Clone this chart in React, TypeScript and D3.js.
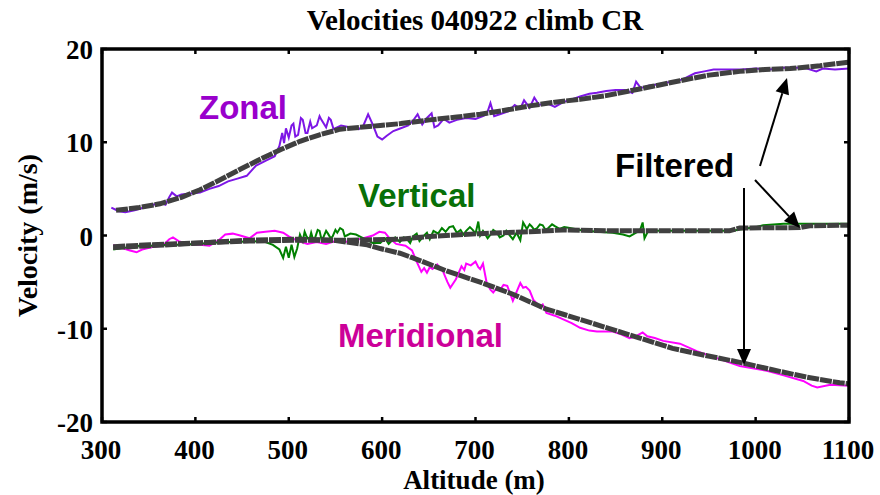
import React from "react";
import * as d3 from "d3";

// ---------- data ----------
const xTicks = [300, 400, 500, 600, 700, 800, 900, 1000, 1100];
const yTicks = [20, 10, 0, -10, -20];

// raw series: [altitude m, velocity m/s]
const zonalRaw: [number, number][] = [
  [310, 3.0], [318, 2.6], [325, 2.5], [335, 2.7], [345, 3.0], [355, 3.3], [362, 3.5], [368, 3.3],
  [372, 4.1], [375, 4.6], [380, 4.2], [385, 4.4], [395, 4.5], [405, 4.6], [415, 5.0], [425, 5.3],
  [435, 5.8], [445, 6.1], [455, 6.4], [465, 7.5], [475, 8.0], [485, 8.5], [490, 9.6], [493, 11.0],
  [495, 9.9], [497, 11.5], [500, 10.5], [503, 11.8], [505, 12.0], [507, 10.6], [510, 10.8], [513, 12.6],
  [515, 12.4], [518, 11.0], [520, 11.0], [523, 12.2], [525, 11.5], [530, 11.8], [533, 12.8], [535, 12.4],
  [540, 11.6], [543, 12.6], [545, 12.4], [548, 11.4], [550, 11.5], [556, 11.8], [565, 11.6], [575, 11.4],
  [580, 11.8], [585, 13.0], [590, 11.9], [595, 10.6], [600, 10.3], [605, 10.7], [612, 11.2], [620, 11.5],
  [628, 11.8], [633, 12.3], [638, 13.0], [643, 11.9], [648, 12.6], [653, 13.1], [656, 11.6], [660, 11.8],
  [666, 12.5], [672, 12.1], [680, 12.4], [690, 12.6], [700, 12.5], [708, 12.8], [712, 13.0], [716, 14.2],
  [720, 12.8], [726, 13.0], [735, 13.3], [742, 14.0], [748, 13.6], [752, 14.5], [758, 13.7], [763, 14.8],
  [768, 14.0], [776, 14.2], [785, 13.8], [794, 14.3], [803, 14.6], [812, 14.9], [822, 15.2], [830, 15.3],
  [840, 15.5], [850, 15.6], [860, 15.6], [868, 15.3], [872, 16.5], [877, 15.8], [886, 16.1], [895, 16.2],
  [905, 16.4], [915, 16.5], [925, 16.9], [935, 17.4], [945, 17.6], [955, 17.8], [970, 17.8], [985, 17.8],
  [1000, 17.9], [1015, 17.8], [1030, 18.0], [1045, 18.0], [1055, 17.9], [1065, 17.6], [1072, 17.9],
  [1085, 17.8], [1100, 17.9],
];

const verticalRaw: [number, number][] = [
  [312, -1.5], [325, -1.3], [340, -1.1], [355, -1.1], [370, -1.0], [385, -1.0], [400, -0.9], [415, -0.8],
  [430, -0.7], [445, -0.7], [460, -0.6], [475, -0.7], [483, -1.0], [490, -1.5], [494, -2.4], [497, -1.2],
  [500, -2.4], [503, -1.0], [506, -2.3], [509, -1.4], [512, 0.1], [515, -0.6], [517, 0.4], [519, -0.1],
  [522, -0.5], [524, 0.3], [526, -0.4], [528, -0.3], [531, 0.6], [533, 0.5], [535, -0.4], [537, -0.2],
  [540, 0.5], [542, 0.2], [545, -0.3], [547, -0.1], [550, 0.6], [552, 0.3], [555, 0.8], [558, 0.6],
  [560, -0.1], [562, 0.0], [566, 0.2], [572, 0.1], [578, -0.2], [584, -0.5], [590, -0.8], [598, -0.8],
  [603, -0.3], [607, -0.9], [610, -0.6], [614, -0.2], [619, -0.7], [623, -0.2], [626, -0.3], [630, -0.8],
  [633, -0.1], [637, 0.2], [640, -0.6], [645, 0.0], [648, 0.3], [651, -0.4], [655, 0.5], [660, 0.2],
  [664, 0.8], [668, 0.4], [672, 0.9], [676, 1.0], [680, 0.3], [684, 0.6], [687, 0.1], [690, 0.5],
  [694, 0.9], [697, 0.6], [700, 0.2], [703, 1.5], [705, 0.0], [708, 0.5], [710, 0.2], [713, -0.3],
  [716, 0.1], [719, 0.6], [723, 0.3], [726, -0.2], [730, 0.0], [733, 0.5], [736, 0.1], [740, -0.4],
  [744, 0.3], [748, -0.5], [751, 1.4], [755, 0.7], [758, 1.2], [760, 1.0], [763, 0.6], [766, 0.8],
  [769, 1.2], [772, 1.1], [775, 0.6], [778, 0.8], [782, 1.2], [785, 1.0], [790, 0.7], [795, 0.9],
  [801, 0.8], [812, 0.6], [830, 0.4], [847, 0.3], [858, 0.1], [865, -0.1], [872, 0.3], [876, 0.5],
  [879, 1.4], [881, -0.3], [885, 0.5], [900, 0.5], [919, 0.5], [950, 0.5], [975, 0.5], [1000, 0.9],
  [1008, 1.1], [1030, 1.25], [1060, 1.25], [1100, 1.25],
];

const meridionalRaw: [number, number][] = [
  [312, -1.0], [320, -1.3], [330, -1.6], [337, -1.8], [343, -1.5], [355, -1.2], [365, -1.1], [372, -0.4],
  [376, -0.2], [382, -0.6], [392, -0.9], [405, -1.0], [415, -1.1], [425, -0.5], [432, 0.1], [440, 0.2],
  [448, 0.0], [458, -0.3], [466, 0.3], [475, 0.4], [485, 0.5], [494, 0.3], [500, -0.1], [510, -0.6],
  [520, -0.9], [530, -0.7], [540, -0.9], [550, -0.6], [560, -0.7], [570, -0.5], [580, -0.3], [590, 0.0],
  [597, 0.4], [603, 0.3], [608, -0.3], [615, -0.9], [625, -1.1], [632, -1.6], [637, -2.8], [642, -3.9],
  [645, -3.5], [648, -4.0], [651, -3.4], [654, -3.6], [659, -3.1], [665, -3.8], [670, -5.0], [673, -5.6],
  [679, -4.7], [685, -3.3], [688, -3.7], [690, -3.0], [695, -3.2], [700, -2.8], [703, -3.4], [705, -3.6],
  [708, -3.0], [712, -5.1], [716, -5.8], [719, -6.1], [723, -5.6], [726, -5.9], [730, -5.3], [734, -5.4],
  [740, -7.0], [745, -5.8], [748, -5.1], [751, -5.6], [754, -5.5], [758, -5.9], [762, -6.9], [766, -7.3],
  [769, -7.7], [772, -7.4], [776, -8.3], [785, -8.6], [794, -9.0], [803, -9.4], [812, -9.9], [822, -10.2],
  [830, -10.3], [847, -10.3], [856, -10.6], [865, -11.0], [872, -10.8], [879, -10.4], [884, -10.8],
  [892, -11.0], [901, -11.3], [919, -11.6], [937, -12.4], [960, -13.2], [983, -14.0], [1012, -14.5],
  [1030, -15.0], [1051, -15.6], [1060, -16.1], [1066, -16.3], [1080, -16.0], [1100, -16.1],
];

// filtered series
const zonalFiltered: [number, number][] = [
  [315, 2.7], [340, 3.0], [362, 3.4], [385, 4.1], [405, 4.9], [425, 5.9], [448, 7.1], [470, 8.2],
  [491, 9.2], [512, 10.1], [533, 10.8], [555, 11.4], [576, 11.6], [598, 11.8], [620, 12.0], [651, 12.4],
  [680, 12.7], [705, 13.0], [730, 13.4], [758, 13.9], [785, 14.3], [812, 14.6], [840, 15.0], [865, 15.5],
  [890, 16.0], [919, 16.6], [950, 17.2], [983, 17.6], [1010, 17.8], [1037, 17.9], [1069, 18.2], [1100, 18.6],
];

const verticalFiltered: [number, number][] = [
  [312, -1.2], [351, -1.0], [405, -0.8], [458, -0.6], [512, -0.5], [566, -0.5], [619, -0.4], [651, -0.1],
  [705, 0.2], [758, 0.4], [794, 0.6], [847, 0.5], [919, 0.5], [972, 0.5], [983, 0.8], [1047, 0.85],
  [1058, 1.05], [1100, 1.1],
];

const meridionalFiltered: [number, number][] = [
  [312, -1.3], [351, -1.1], [405, -0.8], [458, -0.5], [512, -0.4], [547, -0.5], [584, -1.0], [598, -1.4],
  [619, -1.9], [633, -2.4], [669, -3.8], [705, -5.0], [740, -6.3], [776, -7.9], [812, -9.0], [847, -10.1],
  [876, -11.0], [911, -12.1], [948, -12.9], [983, -13.6], [1018, -14.4], [1055, -15.2], [1090, -15.8],
  [1100, -15.9],
];

// ---------- layout ----------
const W = 880;
const H = 495;
const M = { left: 102, right: 849, top: 49, bottom: 422 };

const x = d3.scaleLinear().domain([300, 1100]).range([M.left, M.right]);
const y = d3.scaleLinear().domain([-20, 20]).range([M.bottom, M.top]);
const line = d3
  .line<[number, number]>()
  .x((d) => x(d[0]))
  .y((d) => y(d[1]));

const serif = "'Liberation Serif', 'Times New Roman', serif";
const sans = "'Liberation Sans', Arial, sans-serif";

function Arrow({ x1, y1, x2, y2 }: { x1: number; y1: number; x2: number; y2: number }) {
  const ang = Math.atan2(y2 - y1, x2 - x1);
  const len = 16;
  const half = 7;
  const bx = x2 - len * Math.cos(ang);
  const by = y2 - len * Math.sin(ang);
  const px = -Math.sin(ang) * half;
  const py = Math.cos(ang) * half;
  return (
    <g>
      <line x1={x1} y1={y1} x2={bx} y2={by} stroke="#000" strokeWidth={2} />
      <polygon points={`${x2},${y2} ${bx + px},${by + py} ${bx - px},${by - py}`} fill="#000" />
    </g>
  );
}

export default function App() {
  const tickLen = 5;
  return (
    <div style={{ position: "absolute", left: 0, top: 0 }}>
      <svg width={W} height={H} style={{ display: "block", background: "#fff" }}>
        <defs>
          <clipPath id="plot">
            <rect x={M.left} y={M.top} width={M.right - M.left} height={M.bottom - M.top} />
          </clipPath>
        </defs>

        {/* title */}
        <text x={475} y={30} textAnchor="middle" fontFamily={serif} fontWeight="bold" fontSize={29}>
          Velocities 040922 climb CR
        </text>

        <g clipPath="url(#plot)">
          <path d={line(meridionalRaw) || ""} fill="none" stroke="#ff00ff" strokeWidth={2} />
          <path d={line(zonalRaw) || ""} fill="none" stroke="#7d16e6" strokeWidth={2} />
          <path d={line(verticalRaw) || ""} fill="none" stroke="#008000" strokeWidth={2} />
          {[zonalFiltered, verticalFiltered, meridionalFiltered].map((s, i) => (
            <path
              key={i}
              d={line(s) || ""}
              fill="none"
              stroke="#404040"
              strokeWidth={5}
              strokeDasharray="12 1"
            />
          ))}
        </g>

        {/* ticks */}
        {xTicks.map((t) => (
          <g key={"x" + t}>
            <line x1={x(t)} x2={x(t)} y1={M.bottom} y2={M.bottom - tickLen} stroke="#000" strokeWidth={2.5} />
            <line x1={x(t)} x2={x(t)} y1={M.top} y2={M.top + tickLen} stroke="#000" strokeWidth={2.5} />
            <text x={x(t) - 1} y={459} textAnchor="middle" fontFamily={serif} fontWeight="bold" fontSize={27}>
              {t}
            </text>
          </g>
        ))}
        {yTicks.map((t) => (
          <g key={"y" + t}>
            <line x1={M.left} x2={M.left + tickLen} y1={y(t)} y2={y(t)} stroke="#000" strokeWidth={2.5} />
            <line x1={M.right} x2={M.right - tickLen} y1={y(t)} y2={y(t)} stroke="#000" strokeWidth={2.5} />
            <text x={93} y={y(t) + 10} textAnchor="end" fontFamily={serif} fontWeight="bold" fontSize={27}>
              {t}
            </text>
          </g>
        ))}

        {/* frame */}
        <rect
          x={M.left}
          y={M.top}
          width={M.right - M.left}
          height={M.bottom - M.top}
          fill="none"
          stroke="#000"
          strokeWidth={3.5}
        />

        {/* axis labels */}
        <text x={474} y={489} textAnchor="middle" fontFamily={serif} fontWeight="bold" fontSize={27}>
          Altitude (m)
        </text>
        <text
          transform={`translate(37,${(M.top + M.bottom) / 2}) rotate(-90)`}
          textAnchor="middle"
          fontFamily={serif}
          fontWeight="bold"
          fontSize={28}
        >
          Velocity (m/s)
        </text>

        {/* annotations */}
        <text x={199} y={119} fontFamily={sans} fontWeight="bold" fontSize={33} fill="#9900cc">
          Zonal
        </text>
        <text x={358} y={207} fontFamily={sans} fontWeight="bold" fontSize={33} fill="#087008">
          Vertical
        </text>
        <text x={338} y={347} fontFamily={sans} fontWeight="bold" fontSize={33} fill="#cc0099">
          Meridional
        </text>
        <text x={615} y={177} fontFamily={sans} fontWeight="bold" fontSize={33} fill="#000">
          Filtered
        </text>

        <Arrow x1={760} y1={166} x2={787} y2={78} />
        <Arrow x1={755} y1={180} x2={800} y2={228} />
        <Arrow x1={744} y1={188} x2={744} y2={365} />
      </svg>
    </div>
  );
}
